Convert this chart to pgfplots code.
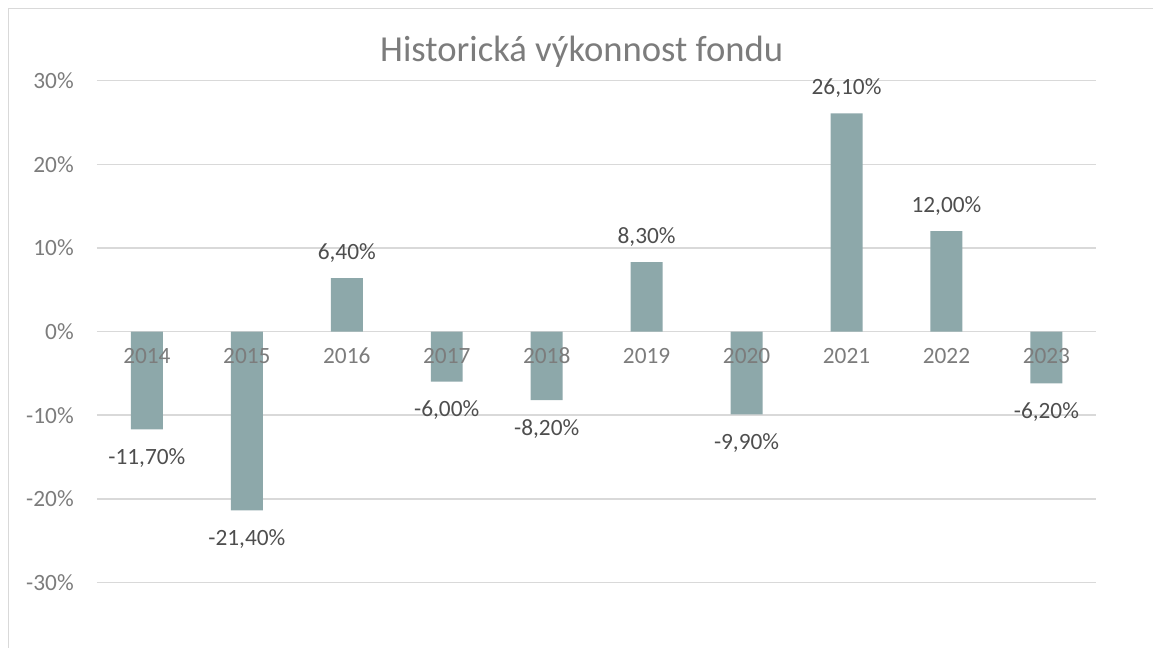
\documentclass[border=0pt]{standalone}
\usepackage{fontspec}
\setmainfont{Carlito}
\usepackage{pgfplots}
\pgfplotsset{compat=1.18}
\pgfplotsset{
  layers/labelsontop/.define layer set={axis background,axis grid,axis ticks,axis lines,pre main,main,axis tick labels,axis descriptions,axis foreground}{
    grid style={/pgfplots/on layer=axis grid},
    tick style={/pgfplots/on layer=axis ticks},
    axis line style={/pgfplots/on layer=axis lines},
    title style={/pgfplots/on layer=axis descriptions},
    ticklabel style={/pgfplots/on layer=axis tick labels},
  },
}
\definecolor{barc}{RGB}{141,168,170}
\definecolor{gridc}{RGB}{217,217,217}
\definecolor{tickc}{RGB}{124,124,124}
\definecolor{labc}{RGB}{78,78,78}
\begin{document}
\begin{tikzpicture}[x=0.75pt,y=0.75pt]
\path (0,0) rectangle (1154,648);
\draw[gridc, line width=1pt] (8.5,0) -- (8.5,639.5) -- (1154,639.5);
\begin{axis}[
  set layers=labelsontop,
  at={(97,78)}, anchor=south west,
  scale only axis, width=750pt, height=376.5pt,
  xmin=-0.5, xmax=9.5, ymin=-30, ymax=30,
  axis line style={draw=none},
  major tick length=0pt,
  ybar, bar width=24pt, bar shift=0pt,
  xtick={0,...,9},
  xticklabels={2014,2015,2016,2017,2018,2019,2020,2021,2022,2023},
  ytick={-30,-20,...,30},
  yticklabels={-30\%,-20\%,-10\%,0\%,10\%,20\%,30\%},
  ymajorgrids, grid style={gridc, line width=1.1pt},
  tick label style={font=\fontsize{17.5}{20}\selectfont, text=tickc},
  xticklabel style={anchor=center, yshift=170.25pt},
  yticklabel style={anchor=east, inner sep=0pt, xshift=-17.25pt},
  title={Historická výkonnost fondu},
  title style={at={(0.485,1)}, anchor=center, yshift=15.75pt, font=\fontsize{27.5}{32}\selectfont, text=tickc},
  nodes near coords={\pgfmathprintnumber[fixed,fixed zerofill,precision=2,use comma,assume math mode=true]{\pgfplotspointmeta}\%},
  every node near coord/.append style={font=\fontsize{17.5}{20}\selectfont, text=labc, anchor=center},
]
\addplot[fill=barc, draw=none, every node near coord/.append style={yshift=19pt}]
  coordinates {(2,6.4) (5,8.3) (7,26.1) (8,12.0)};
\addplot[fill=barc, draw=none, every node near coord/.append style={yshift=-21.5pt}]
  coordinates {(0,-11.7) (1,-21.4) (3,-6.0) (4,-8.2) (6,-9.9) (9,-6.2)};
\end{axis}
\end{tikzpicture}
\end{document}
